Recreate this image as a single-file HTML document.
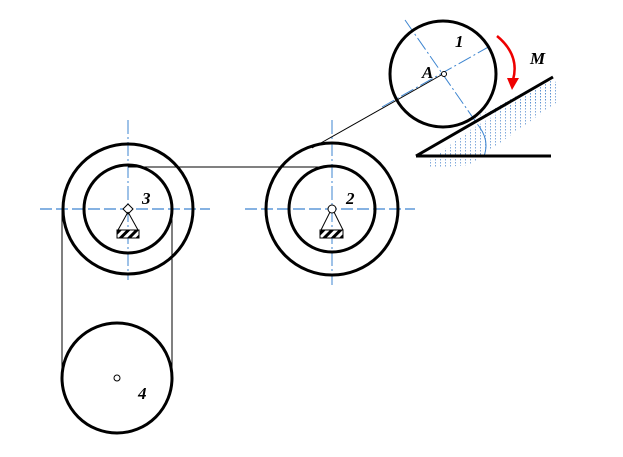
<!DOCTYPE html>
<html><head><style>html,body{margin:0;padding:0;background:#fff}svg{display:block}</style></head>
<body>
<svg width="623" height="457" viewBox="0 0 623 457" xmlns="http://www.w3.org/2000/svg">
<defs>
<pattern id="h" width="6" height="6" patternUnits="userSpaceOnUse" patternTransform="rotate(45)">
<rect width="6" height="6" fill="#fff"/><rect width="3" height="6" fill="#000"/></pattern>
<pattern id="d" width="5" height="3" patternUnits="userSpaceOnUse"><rect width="1" height="1.5" fill="#4a86cc"/></pattern>
</defs>
<polygon points="430,160 470,130 553,80 560,85 560,100 490,150 470,165 430,168" fill="url(#d)" opacity="0.7"/>
<polygon points="470,120 553,77 553,100" fill="url(#d)" opacity="0.7"/>
<g stroke="#3d85d0" stroke-width="1.3" stroke-dasharray="12,4">
<line x1="40" y1="209" x2="210" y2="209"/>
<line x1="245" y1="209" x2="415" y2="209"/>
</g>
<g stroke="#3d85d0" stroke-width="1" stroke-dasharray="14,3,2,3">
<line x1="128" y1="120" x2="128" y2="280"/>
<line x1="332" y1="120" x2="332" y2="285"/>
<line x1="405" y1="20" x2="478" y2="125"/>
<line x1="382" y1="107" x2="492" y2="45"/>
</g>
<path d="M478,125 Q490,140 484,156" fill="none" stroke="#3d85d0" stroke-width="1"/>
<g stroke="#000" stroke-width="1" fill="none">
<line x1="128" y1="167" x2="332" y2="167"/>
<line x1="312" y1="148" x2="443" y2="74"/>
<line x1="62" y1="209" x2="62" y2="378"/>
<line x1="172" y1="209" x2="172" y2="378"/>
</g>
<g stroke="#000" stroke-width="3" fill="none">
<circle cx="128" cy="209" r="65"/>
<circle cx="128" cy="209" r="44"/>
<circle cx="332" cy="209" r="66"/>
<circle cx="332" cy="209" r="43"/>
<circle cx="117" cy="378" r="55"/>
<circle cx="443" cy="74" r="53"/>
</g>
<g stroke="#000" stroke-width="3">
<line x1="416" y1="156" x2="553" y2="77"/>
<line x1="416" y1="156" x2="551" y2="156"/>
</g>
<g stroke="#000" stroke-width="1" fill="#fff">
<polygon points="128,204 133,209 128,214 123,209"/>
<line x1="128" y1="212" x2="118" y2="230"/><line x1="128" y1="212" x2="138" y2="230"/>
<rect x="117" y="230" width="22" height="8" fill="url(#h)"/>
<circle cx="332" cy="209" r="4"/>
<line x1="330" y1="212" x2="321" y2="230"/><line x1="334" y1="212" x2="343" y2="230"/>
<rect x="320" y="230" width="23" height="8" fill="url(#h)"/>
<circle cx="117" cy="378" r="3"/>
<circle cx="444" cy="74" r="2.5"/>
</g>
<path d="M497,36 Q520,55 513,80" fill="none" stroke="#e00" stroke-width="2.5"/>
<polygon points="507,78 519,78 512,90" fill="#e00"/>
<g font-family="Liberation Serif, serif" font-style="italic" font-weight="bold" font-size="17">
<text x="142" y="204">3</text>
<text x="346" y="204">2</text>
<text x="138" y="399">4</text>
<text x="455" y="47">1</text>
<text x="422" y="78">A</text>
<text x="530" y="64">M</text>
</g>
</svg>
</body></html>
